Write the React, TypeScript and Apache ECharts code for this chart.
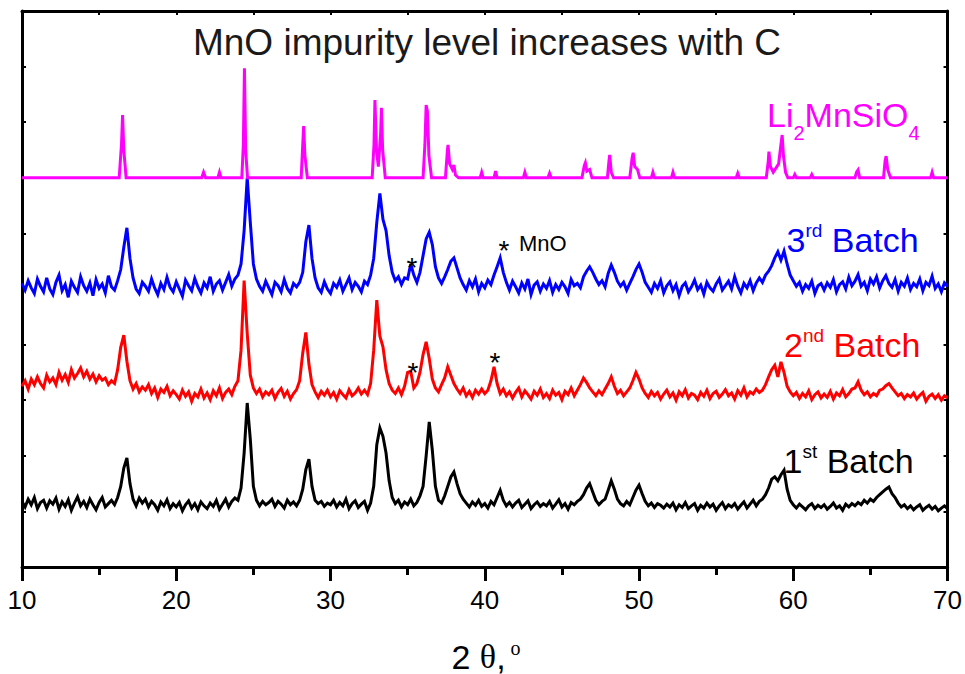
import React, { useEffect, useRef } from "react";
import * as echarts from "echarts";

// ---------- data ----------
const X_MIN = 10;
const X_MAX = 70;
const X_START = 10;
const X_STEP = 0.2;

// Li2MnSiO4 reference pattern: [2θ, intensity (offset units)]
const refPattern: number[][] = [
  [10, 7.0], [16.3, 7.0], [16.45, 7.6], [16.52, 8.13], [16.6, 7.5], [16.75, 7.0],
  [21.65, 7.0], [21.77, 7.1], [21.9, 7.0],
  [22.7, 7.0], [22.8, 7.1], [22.9, 7.0],
  [24.25, 7.0], [24.35, 7.6], [24.42, 8.97], [24.5, 7.5], [24.62, 7.0],
  [28.1, 7.0], [28.2, 7.6], [28.26, 7.93], [28.34, 7.4], [28.5, 7.0],
  [32.7, 7.0], [32.82, 7.6], [32.88, 8.4], [32.98, 7.5], [33.1, 7.2], [33.25, 7.8], [33.3, 8.26], [33.38, 7.5], [33.55, 7.0],
  [36.0, 7.0], [36.12, 7.6], [36.2, 8.31], [36.28, 8.2], [36.38, 7.4], [36.55, 7.0],
  [37.45, 7.0], [37.58, 7.5], [37.62, 7.59], [37.72, 7.25], [37.9, 7.15], [38.0, 7.23], [38.1, 7.05], [38.3, 7.0],
  [39.7, 7.0], [39.8, 7.1], [39.9, 7.0],
  [40.6, 7.0], [40.7, 7.12], [40.8, 7.0],
  [42.5, 7.0], [42.6, 7.1], [42.7, 7.0],
  [44.1, 7.0], [44.2, 7.08], [44.3, 7.0],
  [46.3, 7.0], [46.45, 7.22], [46.52, 7.27], [46.62, 7.12], [46.8, 7.15], [46.95, 7.0],
  [47.95, 7.0], [48.05, 7.3], [48.1, 7.41], [48.2, 7.1], [48.35, 7.0],
  [49.4, 7.0], [49.55, 7.35], [49.62, 7.45], [49.72, 7.2], [49.9, 7.15], [50.05, 7.0],
  [50.8, 7.0], [50.9, 7.1], [51.0, 7.0],
  [52.1, 7.0], [52.2, 7.1], [52.3, 7.0],
  [56.3, 7.0], [56.4, 7.08], [56.5, 7.0],
  [58.25, 7.0], [58.38, 7.3], [58.42, 7.47], [58.52, 7.2], [58.7, 7.1], [59.05, 7.25], [59.2, 7.6], [59.28, 7.77], [59.36, 7.4], [59.5, 7.1], [59.65, 7.0],
  [60.0, 7.0], [60.1, 7.06], [60.2, 7.0],
  [61.1, 7.0], [61.2, 7.06], [61.3, 7.0],
  [64.0, 7.0], [64.1, 7.1], [64.2, 7.14], [64.3, 7.0],
  [65.85, 7.0], [65.95, 7.3], [66.02, 7.39], [66.12, 7.15], [66.3, 7.0],
  [68.9, 7.0], [69.0, 7.1], [69.1, 7.0],
  [70, 7.0],
];

// 3rd batch, sampled every 0.2° from 10°
const batch3: number[] = [
  5.10, 4.98, 5.15, 5.02, 4.92, 5.18, 5.05, 4.95, 5.20, 5.00,
  4.90, 5.12, 5.25, 4.97, 5.08, 4.85, 5.14, 5.03, 4.94, 5.22,
  5.06, 4.96, 5.11, 4.88, 5.17, 5.01, 5.09, 4.93, 5.24, 5.04,
  4.98, 5.15, 5.35, 5.75, 6.10, 5.55, 5.20, 5.00, 4.92, 5.12,
  5.05, 4.96, 5.18, 5.02, 4.90, 5.10, 4.99, 5.21, 5.03, 4.95,
  5.13, 5.00, 4.87, 5.16, 5.06, 4.97, 5.19, 5.04, 4.93, 5.11,
  5.02, 5.22, 4.96, 5.09, 5.15, 4.98, 5.12, 5.26, 5.05, 5.18,
  5.25, 5.45, 6.05, 7.00, 6.20, 5.45, 5.18, 5.05, 4.96, 5.14,
  5.02, 4.90, 5.12, 5.06, 4.95, 5.17, 5.01, 4.93, 5.10, 5.04,
  5.12, 5.30, 5.85, 6.15, 5.55, 5.20, 5.02, 4.94, 5.13, 5.00,
  4.92, 5.10, 5.03, 5.16, 4.96, 5.08, 5.20, 4.99, 5.12, 5.05,
  4.95, 5.14, 5.08, 5.25, 5.55, 6.20, 6.72, 6.25, 6.05, 5.60,
  5.30, 5.15, 5.22, 5.08, 5.20, 5.18, 5.45, 5.25, 5.12, 5.30,
  5.60, 5.90, 6.02, 5.80, 5.40, 5.20, 5.10, 5.22, 5.35, 5.50,
  5.56, 5.38, 5.20, 5.08, 4.98, 5.15, 5.04, 5.18, 4.95, 5.10,
  5.02, 5.16, 5.08, 5.25, 5.40, 5.56, 5.30, 5.12, 4.98, 5.14,
  5.04, 4.93, 5.11, 5.00, 5.18, 4.90, 5.07, 5.13, 4.96, 5.09,
  5.01, 5.15, 4.94, 5.08, 4.99, 5.12, 5.04, 4.92, 5.17, 5.06,
  5.10, 5.02, 5.22, 5.32, 5.40, 5.30, 5.18, 5.08, 5.15, 5.04,
  5.28, 5.43, 5.30, 5.14, 5.05, 5.12, 4.98, 5.10, 5.22, 5.35,
  5.45, 5.30, 5.12, 5.03, 4.94, 5.10, 5.01, 5.15, 4.93, 5.06,
  5.13, 4.97, 5.08, 4.88, 5.05, 5.11, 4.95, 5.04, 5.16, 4.99,
  5.07, 4.91, 5.12, 5.02, 4.96, 5.09, 5.18, 4.98, 5.06, 5.14,
  5.00, 5.22, 5.05, 4.93, 5.10, 5.02, 5.15, 4.97, 5.11, 5.20,
  5.12, 5.25, 5.32, 5.42, 5.56, 5.67, 5.52, 5.68, 5.45, 5.25,
  5.15, 5.05, 5.12, 4.96, 5.08, 5.01, 5.14, 4.92, 5.06, 5.10,
  4.98, 5.11, 5.03, 5.17, 4.95, 5.08, 5.13, 5.00, 5.21, 5.06,
  5.14, 5.26, 5.05, 5.12, 4.97, 5.18, 5.09, 5.22, 5.02, 5.15,
  5.24, 5.10, 5.03, 5.17, 4.96, 5.12, 5.05, 5.20, 4.99, 5.10,
  5.04, 5.18, 4.97, 5.12, 5.06, 5.23, 5.01, 5.09, 4.95, 5.11,
  5.05,
];

// 2nd batch, sampled every 0.2° from 10°
const batch2: number[] = [
  3.25, 3.35, 3.20, 3.38, 3.28, 3.42, 3.30, 3.22, 3.45, 3.33,
  3.40, 3.28, 3.50, 3.36, 3.46, 3.32, 3.55, 3.40, 3.48, 3.58,
  3.42, 3.52, 3.38, 3.47, 3.33, 3.44, 3.36, 3.40, 3.28, 3.35,
  3.30, 3.55, 3.95, 4.17, 3.70, 3.35, 3.20, 3.30, 3.15, 3.24,
  3.18, 3.28, 3.12, 3.22, 3.05, 3.20, 3.14, 3.25, 3.08, 3.17,
  3.10, 3.02, 3.18, 3.07, 3.15, 2.98, 3.12, 3.06, 3.20, 3.04,
  3.13, 3.01, 3.17, 3.08, 3.22, 3.03, 3.14, 3.20, 3.10, 3.25,
  3.35, 3.90, 5.15, 4.20, 3.45, 3.22, 3.12, 3.20, 3.06, 3.15,
  3.10, 3.18, 3.03, 3.14, 3.21, 3.07, 3.16, 3.02, 3.12, 3.19,
  3.35, 3.85, 4.22, 3.65, 3.28, 3.15, 3.05, 3.16, 3.09, 3.18,
  3.06, 3.14, 3.02, 3.17, 3.10, 3.04, 3.19, 3.08, 3.13, 3.22,
  3.11, 3.18, 3.10, 3.30, 3.90, 4.80, 4.15, 3.96, 3.55, 3.30,
  3.18, 3.12, 3.22, 3.10, 3.25, 3.50, 3.52, 3.22, 3.30, 3.50,
  3.82, 4.05, 3.75, 3.38, 3.22, 3.15, 3.28, 3.40, 3.60, 3.45,
  3.30, 3.20, 3.12, 3.22, 3.08, 3.16, 3.05, 3.18, 3.11, 3.20,
  3.12, 3.18, 3.35, 3.60, 3.30, 3.12, 3.20, 3.08, 3.15, 3.04,
  3.14, 3.22, 3.06, 3.17, 3.10, 3.02, 3.16, 3.09, 3.20, 3.05,
  3.12, 3.03, 3.18, 3.09, 3.14, 3.01, 3.16, 3.10, 3.22, 3.08,
  3.18, 3.28, 3.40, 3.32, 3.22, 3.15, 3.08, 3.17, 3.10, 3.20,
  3.30, 3.42, 3.25, 3.12, 3.18, 3.08, 3.15, 3.22, 3.35, 3.50,
  3.38, 3.22, 3.12, 3.05, 3.16, 3.08, 3.14, 3.02, 3.11, 3.18,
  3.06, 3.13, 3.00, 3.15, 3.08, 3.19, 3.04, 3.12, 3.09, 3.01,
  3.14, 3.07, 3.18, 3.03, 3.12, 3.16, 3.05, 3.11, 3.19, 3.08,
  3.13, 3.02, 3.17, 3.09, 3.22, 3.06, 3.15, 3.11, 3.20, 3.14,
  3.18, 3.28, 3.42, 3.55, 3.63, 3.42, 3.69, 3.50, 3.25, 3.15,
  3.08, 3.14, 3.03, 3.12, 3.06, 3.17, 3.01, 3.10, 3.15, 3.04,
  3.11, 3.05, 3.16, 3.02, 3.13, 3.08, 3.19, 3.06, 3.12, 3.20,
  3.22, 3.33, 3.18, 3.10, 3.15, 3.06, 3.12, 3.08, 3.18, 3.20,
  3.26, 3.30, 3.22, 3.15, 3.08, 3.12, 3.03, 3.10, 3.06, 3.13,
  3.02, 3.09, 3.14, 2.98, 3.07, 3.11, 3.03, 3.10, 3.00, 3.08,
  3.04,
];

// 1st batch, sampled every 0.2° from 10°
const batch1: number[] = [
  1.18, 1.08, 1.22, 1.12, 1.25, 1.05, 1.16, 1.20, 1.06, 1.19,
  1.13, 1.24, 1.04, 1.17, 1.09, 1.21, 1.02, 1.15, 1.26, 1.10,
  1.18, 1.07, 1.22, 1.12, 1.03, 1.16, 1.25, 1.08, 1.14, 1.20,
  1.12, 1.25, 1.45, 1.78, 1.96, 1.50, 1.22, 1.10, 1.24, 1.15,
  1.22, 1.08, 1.18, 1.12, 1.02, 1.17, 1.10, 1.21, 1.05, 1.14,
  1.08, 1.16, 1.01, 1.12, 1.19, 1.06, 1.14, 1.03, 1.17, 1.10,
  1.05, 1.15, 1.09, 1.20, 1.04, 1.13, 1.22, 1.08, 1.18, 1.24,
  1.20, 1.42, 2.05, 2.95, 2.30, 1.45, 1.20, 1.10, 1.18, 1.12,
  1.16, 1.22, 1.09, 1.18, 1.13, 1.06, 1.20, 1.12, 1.17, 1.10,
  1.20, 1.40, 1.75, 1.94, 1.45, 1.20, 1.14, 1.18, 1.09, 1.15,
  1.12, 1.20, 1.08, 1.16, 1.10, 1.22, 1.05, 1.14, 1.19, 1.07,
  1.13, 1.18, 1.02, 1.15, 1.45, 2.20, 2.50, 2.35, 2.05, 1.55,
  1.25, 1.14, 1.20, 1.08, 1.17, 1.12, 1.22, 1.10, 1.16, 1.28,
  1.45, 2.00, 2.61, 2.10, 1.45, 1.20, 1.15, 1.28, 1.45, 1.62,
  1.71, 1.50, 1.32, 1.22, 1.15, 1.08, 1.17, 1.11, 1.20, 1.09,
  1.14, 1.06, 1.18, 1.12, 1.25, 1.38, 1.20, 1.10, 1.16, 1.08,
  1.15, 1.20, 1.07, 1.13, 1.19, 1.05, 1.12, 1.17, 1.09, 1.14,
  1.10, 1.18, 1.06, 1.13, 1.21, 1.08, 1.14, 1.04, 1.16, 1.12,
  1.18, 1.22, 1.30, 1.42, 1.50, 1.35, 1.20, 1.12, 1.18, 1.22,
  1.38, 1.55, 1.40, 1.22, 1.14, 1.10, 1.18, 1.12, 1.25, 1.38,
  1.47, 1.32, 1.18, 1.10, 1.15, 1.07, 1.14, 1.11, 1.06, 1.13,
  1.08, 1.15, 1.03, 1.12, 1.07, 1.16, 1.05, 1.10, 1.14, 1.02,
  1.11, 1.06, 1.15, 1.08, 1.13, 1.02, 1.10, 1.16, 1.05, 1.12,
  1.08, 1.14, 1.04, 1.11, 1.17, 1.06, 1.13, 1.20, 1.10, 1.18,
  1.22, 1.30, 1.42, 1.58, 1.62, 1.55, 1.66, 1.74, 1.40, 1.20,
  1.12, 1.06, 1.13, 1.08, 1.03, 1.10, 1.14, 1.05, 1.11, 1.07,
  1.12, 1.04, 1.09, 1.15, 1.06, 1.10, 1.02, 1.13, 1.08, 1.14,
  1.10, 1.16, 1.12, 1.20, 1.15, 1.22, 1.18, 1.25, 1.30, 1.35,
  1.40, 1.44, 1.32, 1.25, 1.15, 1.08, 1.12, 1.05, 1.10, 1.03,
  1.08, 1.12, 1.02, 1.07, 1.11, 1.04, 1.09, 1.01, 1.06, 1.10,
  1.05,
];

const seriesNames = ["Li2MnSiO4", "3rd Batch", "2nd Batch", "1st Batch"];
const seriesColors = ["#ff00ff", "#0000ff", "#ff0000", "#000000"];

// ---------- helpers ----------
const toPairs = (ys: number[]) =>
  ys.map((y, i) => [Math.round((X_START + i * X_STEP) * 10) / 10, y]);

const SANS = '"Liberation Sans", Arial, sans-serif';
const SERIF = '"Liberation Serif", "Times New Roman", serif';

// every rich token has the same total height (inner + paddings) so that the
// token alignment inside the line is unambiguous
const tok = (fontSize: number, padTop: number, total: number, color: string, family = SANS) => ({
  fontSize,
  fontFamily: family,
  fill: color,
  padding: [padTop, 0, total - fontSize - padTop, 0],
});

const batchLabel = (x: number, top: number, num: string, sup: string, color: string) => ({
  type: "text",
  x,
  y: top,
  z: 100,
  style: {
    text: `{b|${num}}{s|${sup}}{b| Batch}`,
    fill: color,
    align: "left",
    verticalAlign: "top",
    rich: {
      b: tok(34, 20, 60, color),
      s: tok(19, 18.4, 60, color),
    },
  },
});

const plainText = (
  x: number,
  y: number,
  text: string,
  fontSize: number,
  color: string,
  align = "center",
  family = SANS
) => ({
  type: "text",
  x,
  y,
  z: 100,
  style: {
    text,
    fill: color,
    fontSize,
    fontFamily: family,
    align,
    verticalAlign: "middle",
  },
});

export default function App() {
  const ref = useRef<HTMLDivElement>(null);

  useEffect(() => {
    if (!ref.current) return;
    const chart = echarts.init(ref.current, null, { renderer: "svg" });

    const lineSeries = [
      { data: refPattern, width: 3 },
      { data: toPairs(batch3), width: 3 },
      { data: toPairs(batch2), width: 3 },
      { data: toPairs(batch1), width: 3 },
    ].map((s, i) => ({
      name: seriesNames[i],
      type: "line",
      xAxisIndex: 0,
      yAxisIndex: 0,
      data: s.data,
      showSymbol: false,
      symbol: "none",
      smooth: false,
      lineStyle: { color: seriesColors[i], width: s.width, join: "miter", miterLimit: 4 },
      itemStyle: { color: seriesColors[i] },
      z: 10 - i,
    }));

    const axisLine = { show: true, onZero: false, lineStyle: { color: "#000", width: 3 } };

    chart.setOption({
      animation: false,
      backgroundColor: "#ffffff",
      grid: { left: 22, right: 17, top: 11, bottom: 107, containLabel: false },
      xAxis: [
        {
          type: "value",
          position: "bottom",
          min: X_MIN,
          max: X_MAX,
          interval: 10,
          axisLine,
          axisTick: { show: true, inside: false, length: 14, lineStyle: { color: "#000", width: 3 } },
          minorTick: { show: true, splitNumber: 2, length: 8, lineStyle: { color: "#000", width: 3 } },
          splitLine: { show: false },
          minorSplitLine: { show: false },
          axisLabel: {
            show: true,
            fontSize: 26,
            color: "#000",
            fontFamily: SANS,
            margin: 20,
            showMinLabel: true,
            showMaxLabel: true,
          },
        },
        {
          type: "value",
          position: "top",
          min: X_MIN,
          max: X_MAX,
          interval: 5,
          axisLine,
          axisTick: { show: true, inside: true, length: 4, lineStyle: { color: "#000", width: 2 } },
          axisLabel: { show: false },
          splitLine: { show: false },
        },
      ],
      yAxis: [
        {
          type: "value",
          position: "left",
          min: 0,
          max: 10,
          interval: 1,
          axisLine,
          axisTick: { show: true, inside: true, length: 4, lineStyle: { color: "#000", width: 2 } },
          axisLabel: { show: false },
          splitLine: { show: false },
        },
        {
          type: "value",
          position: "right",
          min: 0,
          max: 10,
          interval: 1,
          axisLine,
          axisTick: { show: true, inside: true, length: 4, lineStyle: { color: "#000", width: 2 } },
          axisLabel: { show: false },
          splitLine: { show: false },
        },
      ],
      series: lineSeries,
      graphic: [
        plainText(487, 42, "MnO impurity level increases with C", 37, "#1a1a1a"),
        {
          type: "text",
          x: 767,
          y: 88,
          z: 100,
          style: {
            text: "{b|Li}{u|2}{b|MnSiO}{u|4}",
            fill: "#ff00ff",
            align: "left",
            verticalAlign: "top",
            rich: {
              b: tok(34, 10, 70, "#ff00ff"),
              u: tok(20, 35, 70, "#ff00ff"),
            },
          },
        },
        batchLabel(786.5, 203, "3", "rd", "#0000ff"),
        batchLabel(784, 308, "2", "nd", "#ff0000"),
        batchLabel(783.5, 424, "1", "st", "#000000"),
        plainText(412, 267, "*", 28, "#000"),
        plainText(413, 372, "*", 28, "#000"),
        plainText(495, 362, "*", 28, "#000"),
        plainText(504, 250, "*", 28, "#000"),
        plainText(519, 243, "MnO", 22, "#000", "left"),
        {
          type: "text",
          x: 451.5,
          y: 656.5,
          z: 100,
          style: {
            text: "{a|2 }{t|θ}{a|,}",
            fill: "#000",
            align: "left",
            verticalAlign: "middle",
            rich: {
              a: { fontSize: 34, fontFamily: SANS, fill: "#000" },
              t: { fontSize: 34, fontFamily: SERIF, fill: "#000" },
            },
          },
        },
        plainText(510.5, 648, "o", 20, "#000", "left", SERIF),
      ],
    });

    return () => chart.dispose();
  }, []);

  return (
    <div
      ref={ref}
      style={{ position: "fixed", left: 0, top: 0, width: 965, height: 674, background: "#fff" }}
    />
  );
}
